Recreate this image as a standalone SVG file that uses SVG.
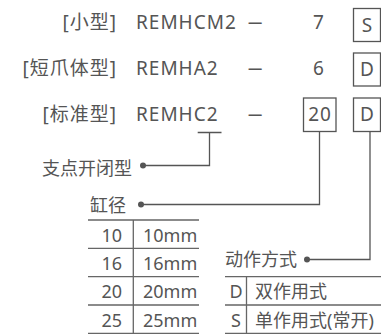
<svg xmlns="http://www.w3.org/2000/svg" width="381" height="335" viewBox="0 0 381 335">
<style>
text{font-family:"Noto Sans","Noto Sans CJK SC",sans-serif;fill:#555;}
.t{font-size:19px;letter-spacing:1px;}
.s{font-size:18px;}
.box{fill:none;stroke:#555;stroke-width:1.3;}
.ln{fill:none;stroke:#555;stroke-width:1.3;}
.tb{fill:none;stroke:#666;stroke-width:1.3;}
.dot{fill:#555;}
</style>
<g id="row-small">
<text class="t" x="117" y="28.5" text-anchor="end">[小型]</text>
<text class="t" x="136" y="28.5">REMHCM2</text>
<text class="t" x="248" y="28.5" textLength="15" lengthAdjust="spacingAndGlyphs">—</text>
<text class="t" x="319" y="28.5" text-anchor="middle">7</text>
<rect class="box" x="353.5" y="8.5" width="27" height="33"/>
<text class="t" x="367.5" y="31.5" text-anchor="middle">S</text>
</g>
<g id="row-short">
<text class="t" x="117" y="75" text-anchor="end">[短爪体型]</text>
<text class="t" x="136" y="75">REMHA2</text>
<text class="t" x="248" y="75" textLength="15" lengthAdjust="spacingAndGlyphs">—</text>
<text class="t" x="319" y="75" text-anchor="middle">6</text>
<rect class="box" x="353.5" y="53" width="27" height="33"/>
<text class="t" x="367.5" y="76" text-anchor="middle">D</text>
</g>
<g id="row-standard">
<text class="t" x="117" y="121" text-anchor="end">[标准型]</text>
<text class="t" x="136" y="121">REMHC2</text>
<text class="t" x="248" y="121" textLength="15" lengthAdjust="spacingAndGlyphs">—</text>
<rect class="box" x="303.5" y="98" width="32.5" height="33.5"/>
<text class="t" x="320" y="121" text-anchor="middle">20</text>
<rect class="box" x="353.5" y="98" width="27" height="33.5"/>
<text class="t" x="367.5" y="121" text-anchor="middle">D</text>
</g>
<g id="connectors">
<path class="ln" d="M197.7 132.5H221.5M209.5 132.5V165.5H143"/>
<circle class="dot" cx="143" cy="165.5" r="3"/>
<path class="ln" d="M319.5 131.5V204.5H141"/>
<circle class="dot" cx="141" cy="204.5" r="3"/>
<path class="ln" d="M370 131.5V259.5H307"/>
<circle class="dot" cx="307" cy="259.5" r="3"/>
</g>
<g id="label-pivot">
<text class="s" x="132" y="175" text-anchor="end">支点开闭型</text>
</g>
<g id="bore-table">
<text class="s" x="126" y="212" text-anchor="end">缸径</text>
<path class="tb" d="M88 220H199M88 248.3H199M88 276.7H199M88 305H199M88 333.3H199M133.3 220V333.3"/>
<text class="s" x="122" y="241.5" text-anchor="end">10</text>
<text class="s" x="143" y="241.5">10mm</text>
<text class="s" x="122" y="269.8" text-anchor="end">16</text>
<text class="s" x="143" y="269.8">16mm</text>
<text class="s" x="122" y="298.2" text-anchor="end">20</text>
<text class="s" x="143" y="298.2">20mm</text>
<text class="s" x="122" y="326.5" text-anchor="end">25</text>
<text class="s" x="143" y="326.5">25mm</text>
</g>
<g id="action-table">
<text class="s" x="225" y="266">动作方式</text>
<path class="tb" d="M225 276.7H381M225 305H381M225 333.3H381M246.5 276.7V333.3"/>
<text class="s" x="236" y="298.2" text-anchor="middle">D</text>
<text class="s" x="255" y="298.2">双作用式</text>
<text class="s" x="236" y="326.5" text-anchor="middle">S</text>
<text class="s" x="255" y="326.5">单作用式(常开)</text>
</g>
</svg>
